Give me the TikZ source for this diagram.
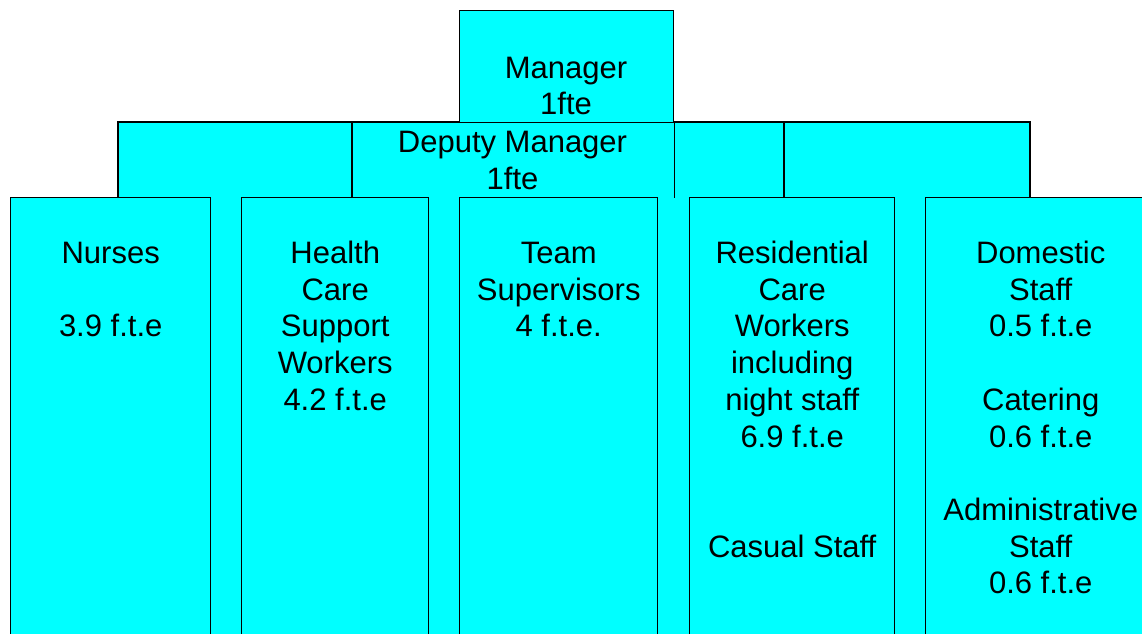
\documentclass[tikz,border=0pt]{standalone}
\usepackage{fontspec}
\setmainfont{Liberation Sans}
\usetikzlibrary{positioning}
\definecolor{orgcyan}{RGB}{0,255,255}

\begin{document}
\begin{tikzpicture}[x=1pt,y=-1pt,
  box/.style={draw,fill=orgcyan,line width=1.4pt,inner sep=0pt,anchor=north west,minimum height=460pt},
  lbl/.style={align=center,anchor=north,inner sep=0pt,font=\fontsize{31}{36.7}\selectfont}]

\useasboundingbox (0,0) rectangle (1142,633);
\clip (0,0) rectangle (1142,633);

% Fondo sotto le colonne
\fill[orgcyan] (10,197) rectangle (1142,660);

% Fascia del vice
\filldraw[fill=orgcyan,line width=1.4pt] (118,197) -- (118,122) -- (1030,122) -- (1030,197);
\draw[line width=1.4pt] (352,122) -- (352,197);
\draw[line width=1.4pt] (784,122) -- (784,197);

% Manager
\node[box,minimum width=214pt,minimum height=112pt] (mgr) at (459,10) {};
\draw[line width=1.4pt] (mgr.south east) -- ++(0,75);

\node[lbl] (mgrTxt) at (566,52.3) {\strut Manager\\1fte};
\node[lbl] (depTxt) at (512.5,127) {\strut Deputy Manager\\1fte};

% Colonne
\node[box,minimum width=200pt] (nurses) at (10,197) {};
\node[box,minimum width=187pt] (hcsw) at (241,197) {};
\node[box,minimum width=198pt] (team) at (459,197) {};
\node[box,minimum width=205pt] (resid) at (689,197) {};
\node[box,minimum width=230pt] (domestic) at (925,197) {};

\node[lbl,below=40.6pt of nurses.north] (nursesTxt) {\strut Nurses\\[\baselineskip]3.9 f.t.e};
\node[lbl,below=40.6pt of hcsw.north] (hcswTxt) {\strut Health\\Care\\Support\\Workers\\4.2 f.t.e};
\node[lbl,below=40.6pt of team.north] (teamTxt) {\strut Team\\Supervisors\\4 f.t.e.};
\node[lbl,below=40.6pt of resid.north] (residTxt) {\strut Residential\\Care\\Workers\\including\\night staff\\6.9 f.t.e\\[2\baselineskip]Casual Staff};
\node[lbl,below=40.6pt of domestic.north] (domesticTxt) {\strut Domestic\\Staff\\0.5 f.t.e\\[\baselineskip]Catering\\0.6 f.t.e\\[\baselineskip]Administrative\\Staff\\0.6 f.t.e};

\end{tikzpicture}
\end{document}
